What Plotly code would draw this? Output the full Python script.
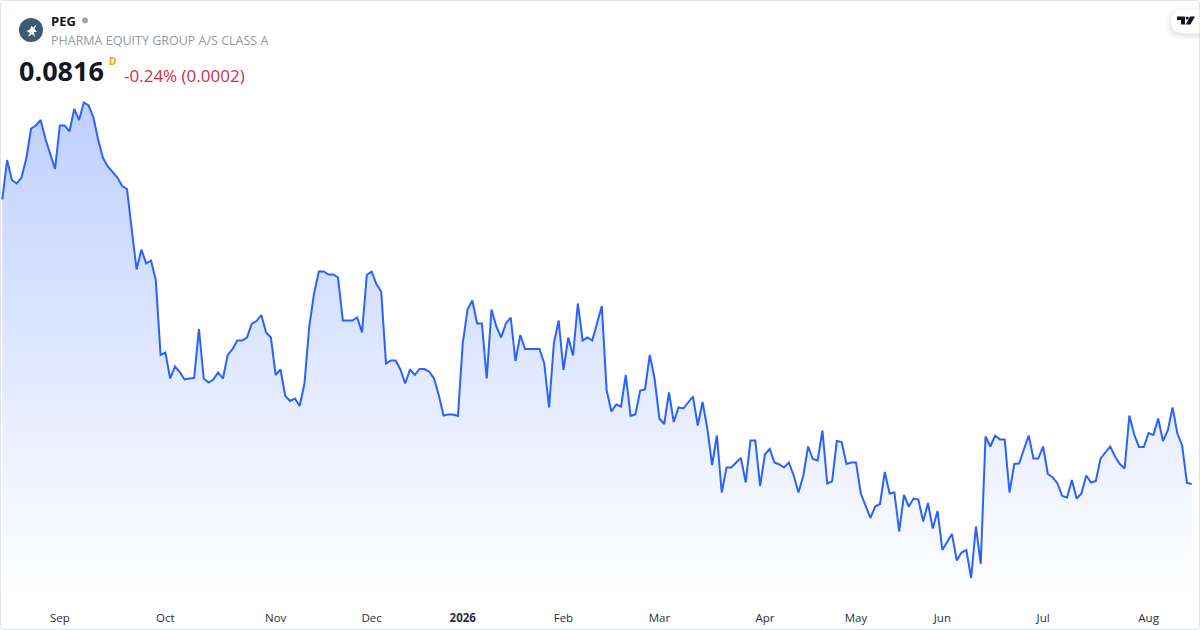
import pandas as pd
import plotly.graph_objects as go

W, H, PLOT_B = 1200, 630, 30

symbol = "PEG"
name = "PHARMA EQUITY GROUP A/S CLASS A"
last_price = "0.0816"
change_text = "-0.24% (0.0002)"
interval = "D"

holidays = ["2025-12-24", "2025-12-25", "2025-12-26", "2025-12-31", "2026-01-01",
            "2026-04-02", "2026-04-03", "2026-04-06", "2026-05-14", "2026-05-15",
            "2026-05-25", "2026-06-05", "2026-07-03"]
dates = [d.strftime("%Y-%m-%d") for d in pd.bdate_range("2025-08-14", "2026-08-14")
         if d.strftime("%Y-%m-%d") not in holidays]

tick_dates = ["2025-09-01", "2025-10-01", "2025-11-03", "2025-12-01", "2026-01-02", "2026-02-02",
              "2026-03-02", "2026-04-01", "2026-05-01", "2026-06-01", "2026-07-01", "2026-08-03"]
tick_labels = ["Sep", "Oct", "Nov", "Dec", "<b>2026</b>", "Feb", "Mar", "Apr", "May", "Jun", "Jul", "Aug"]

prices = [
    0.1385, 0.1464, 0.1424, 0.1417, 0.1429, 0.1467, 0.1527, 0.1533, 0.1544, 0.1506,
    0.1476, 0.1446, 0.1533, 0.1533, 0.1521, 0.1566, 0.1544, 0.1579, 0.1573, 0.1549,
    0.1504, 0.1468, 0.1451, 0.1441, 0.1429, 0.1412, 0.1406, 0.1324, 0.1245, 0.1285,
    0.1257, 0.1263, 0.1224, 0.1074, 0.1079, 0.1027, 0.1051, 0.1040, 0.1025, 0.1027,
    0.1028, 0.1126, 0.1027, 0.1019, 0.1025, 0.1039, 0.1027, 0.1074, 0.1086, 0.1103,
    0.1103, 0.1109, 0.1136, 0.1142, 0.1154, 0.1119, 0.1109, 0.1034, 0.1045, 0.0992,
    0.0982, 0.0987, 0.0972, 0.1017, 0.1131, 0.1197, 0.1241, 0.1241, 0.1235, 0.1235,
    0.1229, 0.1143, 0.1143, 0.1143, 0.1149, 0.1119, 0.1234, 0.1241, 0.1216, 0.1201,
    0.1057, 0.1063, 0.1063, 0.1045, 0.1017, 0.1045, 0.1034, 0.1046, 0.1046, 0.1041,
    0.1027, 0.0994, 0.0953, 0.0955, 0.0955, 0.0952, 0.1097, 0.1165, 0.1183, 0.1137,
    0.1137, 0.1027, 0.1165, 0.1131, 0.1109, 0.1137, 0.1149, 0.1062, 0.1114, 0.1086,
    0.1086, 0.1086, 0.1086, 0.1057, 0.0969, 0.1097, 0.1143, 0.1044, 0.1109, 0.1073,
    0.1177, 0.1103, 0.1109, 0.1103, 0.1137, 0.1172, 0.1004, 0.0961, 0.0975, 0.0971,
    0.1034, 0.0952, 0.0955, 0.1003, 0.1005, 0.1074, 0.1027, 0.0947, 0.0936, 0.0999,
    0.0940, 0.0969, 0.0967, 0.0979, 0.0991, 0.0933, 0.0980, 0.0927, 0.0854, 0.0913,
    0.0799, 0.0849, 0.0849, 0.0859, 0.0868, 0.0819, 0.0903, 0.0903, 0.0812, 0.0875,
    0.0886, 0.0859, 0.0855, 0.0849, 0.0859, 0.0833, 0.0799, 0.0832, 0.0891, 0.0866,
    0.0863, 0.0923, 0.0817, 0.0821, 0.0902, 0.0900, 0.0856, 0.0859, 0.0859, 0.0797,
    0.0773, 0.0748, 0.0771, 0.0776, 0.0840, 0.0797, 0.0799, 0.0721, 0.0794, 0.0771,
    0.0787, 0.0785, 0.0741, 0.0778, 0.0727, 0.0762, 0.0684, 0.0699, 0.0716, 0.0663,
    0.0679, 0.0684, 0.0628, 0.0731, 0.0656, 0.0911, 0.0891, 0.0913, 0.0905, 0.0905,
    0.0799, 0.0856, 0.0857, 0.0885, 0.0913, 0.0867, 0.0867, 0.0891, 0.0836, 0.0829,
    0.0817, 0.0792, 0.0789, 0.0824, 0.0787, 0.0797, 0.0833, 0.0819, 0.0822, 0.0867,
    0.0879, 0.0891, 0.0871, 0.0856, 0.0847, 0.0953, 0.0915, 0.0890, 0.0890, 0.0918,
    0.0914, 0.0947, 0.0902, 0.0923, 0.0969, 0.0917, 0.0893, 0.0818, 0.0816,
]

Y_TOP, Y_BOTTOM = 0.1784, 0.0584


def px(x):
    return x / W


def py(y):
    return 1 - y / (H - PLOT_B)


def path(points):
    return "M" + " L".join(f"{px(x):.5f},{py(y):.5f}" for x, y in points) + " Z"


def pill(x0, y0, x1, y1):
    r = (y1 - y0) / 2
    return (f"M{px(x1):.5f},{py(y0):.5f} L{px(x0 + r):.5f},{py(y0):.5f} "
            f"Q{px(x0):.5f},{py(y0):.5f} {px(x0):.5f},{py(y0 + r):.5f} "
            f"Q{px(x0):.5f},{py(y1):.5f} {px(x0 + r):.5f},{py(y1):.5f} "
            f"L{px(x1):.5f},{py(y1):.5f} Z")


fig = go.Figure()
fig.add_trace(go.Scatter(
    x=dates, y=prices, mode="lines", fill="tozeroy",
    line=dict(color="#2962ff", width=2, shape="linear"),
    fillgradient=dict(type="vertical", start=Y_BOTTOM, stop=0.1579,
                      colorscale=[[0, "rgba(41,98,255,0)"], [1, "rgba(41,98,255,0.3)"]]),
    hoverinfo="skip", showlegend=False,
))

shapes = [
    dict(type="path", xref="paper", yref="paper", layer="above",
         path=(f"M{px(4):.5f},{py(.5):.5f} L{px(1196):.5f},{py(.5):.5f} "
               f"Q{px(1199.5):.5f},{py(.5):.5f} {px(1199.5):.5f},{py(4):.5f} "
               f"L{px(1199.5):.5f},{py(626):.5f} Q{px(1199.5):.5f},{py(629.5):.5f} {px(1196):.5f},{py(629.5):.5f} "
               f"L{px(4):.5f},{py(629.5):.5f} Q{px(.5):.5f},{py(629.5):.5f} {px(.5):.5f},{py(626):.5f} "
               f"L{px(.5):.5f},{py(4):.5f} Q{px(.5):.5f},{py(.5):.5f} {px(4):.5f},{py(.5):.5f} Z"),
         line=dict(color="#e0e3eb", width=1)),
    # logo disc
    dict(type="circle", xref="paper", yref="paper", layer="above",
         x0=px(19), x1=px(43), y0=py(18), y1=py(42), fillcolor="#3c5b70", line_width=0),
    dict(type="path", xref="paper", yref="paper", layer="above", fillcolor="#ffffff", line_width=0,
         path=path([(26.5, 31), (30, 29.5), (31.5, 26), (33, 27.5), (36.5, 24.5), (34.5, 29),
                    (37, 32), (34, 32), (35, 37), (32, 34), (28, 37), (30, 33)])),
    # status dot
    dict(type="circle", xref="paper", yref="paper", layer="above",
         x0=px(82), x1=px(88), y0=py(17.5), y1=py(23.5), fillcolor="#a3a6af", line_width=0),
]

# TradingView badge: soft shadow then white pill
for grow, alpha in ((6, 0.012), (4, 0.018), (2.5, 0.022), (1, 0.03)):
    shapes.append(dict(type="path", xref="paper", yref="paper", layer="above",
                       path=pill(1171 - grow, 10 - grow + 2, 1199.5, 33 + grow + 2),
                       fillcolor=f"rgba(0,0,0,{alpha})", line_width=0))
shapes.append(dict(type="path", xref="paper", yref="paper", layer="above",
                   path=pill(1171, 10, 1199.5, 33), fillcolor="#ffffff", line_width=0))
shapes.extend([
    dict(type="path", xref="paper", yref="paper", layer="above", fillcolor="#131722", line_width=0,
         path=path([(1177, 16.5), (1185, 16.5), (1185, 24.5), (1181, 24.5), (1181, 20), (1177, 20)])),
    dict(type="circle", xref="paper", yref="paper", layer="above", fillcolor="#131722", line_width=0,
         x0=px(1185.7), x1=px(1188.7), y0=py(16.5), y1=py(19.5)),
    dict(type="path", xref="paper", yref="paper", layer="above", fillcolor="#131722", line_width=0,
         path=path([(1190, 16.5), (1195, 16.5), (1190.5, 24.5), (1185.5, 24.5)])),
])

FONT = "Open Sans"


def label(text, x, y, size, color, anchor="left"):
    return dict(text=text, xref="paper", yref="paper", x=px(x), y=py(y), xanchor=anchor, yanchor="middle",
                showarrow=False, font=dict(family=FONT, size=size, color=color), align="left",
                borderpad=0, borderwidth=0)


annotations = [
    label(f"<b>{symbol}</b>", 50.5, 21, 13, "#131722"),
    label(name, 50.5, 40.5, 12.5, "#9598a1"),
    label(f"<b>{last_price}</b>", 18.5, 71, 27, "#131722"),
    label(f"<b>{interval}</b>", 108.5, 61, 10, "#ff9800"),
    label(change_text, 123.5, 75, 17, "#d32f3f"),
]

fig.update_layout(
    width=W, height=H, autosize=False,
    margin=dict(l=0, r=0, t=0, b=PLOT_B, pad=0),
    paper_bgcolor="#ffffff", plot_bgcolor="#ffffff",
    font=dict(family=FONT, color="#131722"),
    xaxis=dict(type="category", categoryorder="array", categoryarray=dates,
               range=[-0.48, 249.72], tickmode="array", tickvals=tick_dates, ticktext=tick_labels,
               showgrid=False, zeroline=False, showline=False,
               ticks="outside", ticklen=7, tickcolor="rgba(0,0,0,0)", tickfont=dict(size=11.5, color="#2a2e39")),
    yaxis=dict(range=[Y_BOTTOM, Y_TOP], visible=False, showgrid=False, zeroline=False),
    shapes=shapes, annotations=annotations,
)
fig.write_html("out.html", config=dict(displayModeBar=False),
               post_script="document.body.style.margin='0';document.body.style.overflow='hidden';")
